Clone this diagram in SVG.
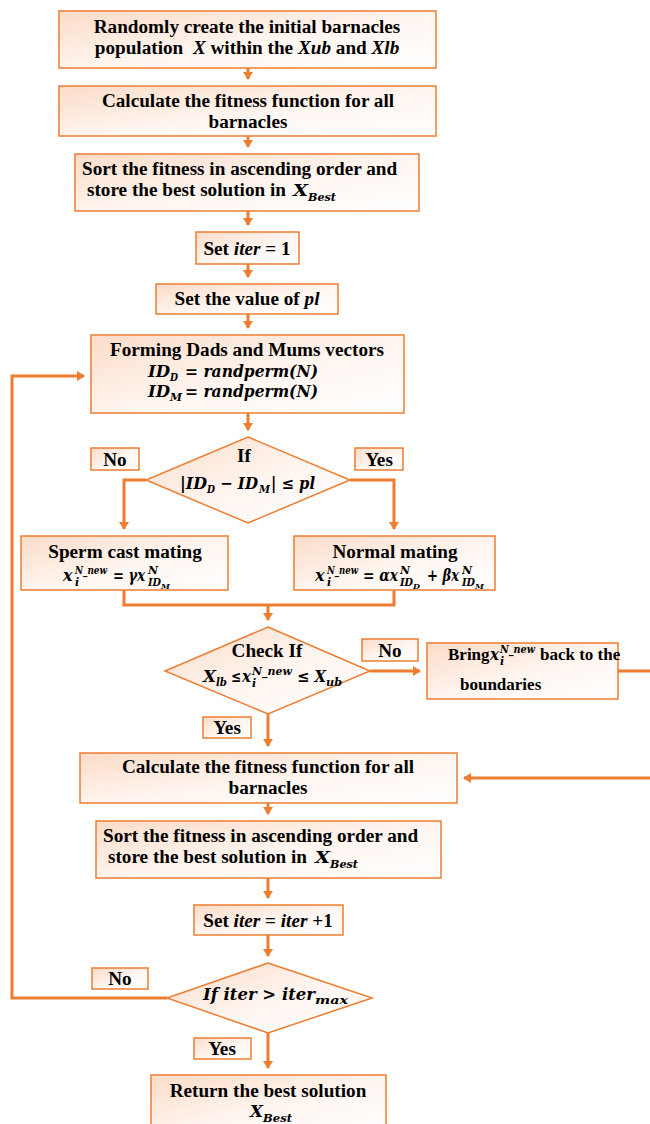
<svg xmlns="http://www.w3.org/2000/svg" width="650" height="1124" viewBox="0 0 650 1124">
<style>
.box{stroke:#ED7D31;stroke-width:1.5;fill:url(#g)}
.lbl{stroke:#ED7D31;stroke-width:1.5;fill:url(#g)}
.c{stroke:#ED7D31;stroke-width:3;fill:none}
.t{font-family:"Liberation Serif","Times New Roman",serif;font-weight:bold;font-size:19.2px;fill:#000}
.t17{font-size:17px}
.m{font-family:"DejaVu Serif",serif;font-weight:bold;font-style:italic;font-size:16px;fill:#000}
.s{font-size:11px}
.ss{font-size:8px}
.i{font-style:italic}
.mid{text-anchor:middle}
</style>
<defs>
<linearGradient id="g" x1="0" y1="0" x2="1" y2="1">
<stop offset="0" stop-color="#FBDCC8"/>
<stop offset="0.55" stop-color="#FFF6F1"/>
<stop offset="1" stop-color="#FFFFFF"/>
</linearGradient>
<marker id="a" markerWidth="10" markerHeight="10" refX="7" refY="5" orient="auto" markerUnits="userSpaceOnUse">
<path d="M0,0 L8,5 L0,10 Z" fill="#ED7D31"/>
</marker>
</defs>

<g id="connectors">
<line class="c" x1="248" y1="68" x2="248" y2="79" marker-end="url(#a)"/>
<line class="c" x1="248" y1="136" x2="248" y2="147" marker-end="url(#a)"/>
<line class="c" x1="248" y1="211" x2="248" y2="225" marker-end="url(#a)"/>
<line class="c" x1="248" y1="264" x2="248" y2="277" marker-end="url(#a)"/>
<line class="c" x1="248" y1="314" x2="248" y2="328" marker-end="url(#a)"/>
<line class="c" x1="248" y1="413" x2="248" y2="430" marker-end="url(#a)"/>
<polyline class="c" points="146,480 124,480 124,529" marker-end="url(#a)"/>
<polyline class="c" points="350,480 394,480 394,529" marker-end="url(#a)"/>
<polyline class="c" points="124,590 124,605 394,605 394,590"/>
<line class="c" x1="268" y1="605" x2="268" y2="620" marker-end="url(#a)"/>
<line class="c" x1="370" y1="671" x2="420" y2="671" marker-end="url(#a)"/>
<polyline class="c" points="618,671 650,671"/>
<polyline class="c" points="650,778 464,778" marker-end="url(#a)"/>
<line class="c" x1="268" y1="714" x2="268" y2="746" marker-end="url(#a)"/>
<line class="c" x1="268" y1="803" x2="268" y2="814" marker-end="url(#a)"/>
<line class="c" x1="268" y1="878" x2="268" y2="898" marker-end="url(#a)"/>
<line class="c" x1="268" y1="935" x2="268" y2="956" marker-end="url(#a)"/>
<polyline class="c" points="167,998 12,998 12,376 84,376" marker-end="url(#a)"/>
<line class="c" x1="268" y1="1033" x2="268" y2="1068" marker-end="url(#a)"/>
</g>

<g id="n1">
<rect class="box" x="59" y="11" width="377" height="57"/>
<text class="t mid" x="247" y="33">Randomly create the initial barnacles</text>
<text class="t mid" x="247" y="54">population&#160; <tspan class="i">X</tspan> within the <tspan class="i">Xub</tspan> and <tspan class="i">Xlb</tspan></text>
</g>

<g id="n2">
<rect class="box" x="59" y="86" width="377" height="50"/>
<text class="t mid" x="248" y="107">Calculate the fitness function for all</text>
<text class="t mid" x="248" y="128">barnacles</text>
</g>

<g id="n3">
<rect class="box" x="75" y="154" width="344" height="57"/>
<text class="t" x="82" y="175">Sort the fitness in ascending order and</text>
<text class="t" x="87" y="196">store the best solution in</text>
<text class="m" x="293" y="196" textLength="15" lengthAdjust="spacingAndGlyphs">X</text>
<text class="m s" x="308" y="201" textLength="28" lengthAdjust="spacingAndGlyphs">Best</text>
</g>

<g id="n4">
<rect class="box" x="196" y="232" width="103" height="32"/>
<text class="t mid" x="247" y="255">Set <tspan class="i">iter</tspan> = 1</text>
</g>

<g id="n5">
<rect class="box" x="156" y="284" width="182" height="30"/>
<text class="t mid" x="247" y="305">Set the value of <tspan class="i">pl</tspan></text>
</g>

<g id="n6">
<rect class="box" x="91" y="335" width="313" height="78"/>
<text class="t mid" x="247" y="356">Forming Dads and Mums vectors</text>
<text class="m" x="148" y="377" textLength="22" lengthAdjust="spacingAndGlyphs">ID</text>
<text class="m s" x="170" y="381" textLength="8" lengthAdjust="spacingAndGlyphs">D</text>
<text class="m" x="185" y="377" textLength="133" lengthAdjust="spacingAndGlyphs">= randperm(N)</text>
<text class="m" x="148" y="397" textLength="22" lengthAdjust="spacingAndGlyphs">ID</text>
<text class="m s" x="170" y="401" textLength="12" lengthAdjust="spacingAndGlyphs">M</text>
<text class="m" x="185" y="397" textLength="133" lengthAdjust="spacingAndGlyphs">= randperm(N)</text>
</g>

<g id="d1">
<polygon class="box" points="248,437 350,480 248,523 146,480"/>
<text class="t mid" x="244" y="462">If</text>
<text class="m" x="180" y="489" textLength="27" lengthAdjust="spacingAndGlyphs">|ID</text>
<text class="m s" x="207" y="493" textLength="8" lengthAdjust="spacingAndGlyphs">D</text>
<text class="m" x="220" y="489" textLength="38" lengthAdjust="spacingAndGlyphs">− ID</text>
<text class="m s" x="259" y="493" textLength="11" lengthAdjust="spacingAndGlyphs">M</text>
<text class="m" x="271" y="489" textLength="44" lengthAdjust="spacingAndGlyphs">| ≤ pl</text>
</g>

<g id="l1">
<rect class="lbl" x="91" y="448" width="48" height="22"/>
<text class="t mid" x="115" y="466">No</text>
</g>
<g id="l2">
<rect class="lbl" x="355" y="448" width="48" height="22"/>
<text class="t mid" x="379" y="466">Yes</text>
</g>

<g id="n7">
<rect class="box" x="21" y="536" width="207" height="54"/>
<text class="t mid" x="125" y="558">Sperm cast mating</text>
<text class="m" x="63" y="581">x</text>
<text class="m s" x="75" y="574" textLength="32" lengthAdjust="spacingAndGlyphs">N_new</text>
<text class="m s" x="75" y="586">i</text>
<text class="m" x="113" y="581" textLength="32" lengthAdjust="spacingAndGlyphs">= γx</text>
<text class="m s" x="148" y="574">N</text>
<text class="m s" x="148" y="586" textLength="13" lengthAdjust="spacingAndGlyphs">ID</text>
<text class="m ss" x="161" y="589">M</text>
</g>

<g id="n8">
<rect class="box" x="294" y="536" width="201" height="54"/>
<text class="t mid" x="395" y="558">Normal mating</text>
<text class="m" x="315" y="581">x</text>
<text class="m s" x="327" y="574" textLength="31" lengthAdjust="spacingAndGlyphs">N_new</text>
<text class="m s" x="327" y="586">i</text>
<text class="m" x="363" y="581" textLength="35" lengthAdjust="spacingAndGlyphs">= αx</text>
<text class="m s" x="400" y="574">N</text>
<text class="m s" x="400" y="586" textLength="13" lengthAdjust="spacingAndGlyphs">ID</text>
<text class="m ss" x="413" y="589">D</text>
<text class="m" x="427" y="581" textLength="32" lengthAdjust="spacingAndGlyphs">+ βx</text>
<text class="m s" x="462" y="574">N</text>
<text class="m s" x="462" y="586" textLength="13" lengthAdjust="spacingAndGlyphs">ID</text>
<text class="m ss" x="475" y="589">M</text>
</g>

<g id="d2">
<polygon class="box" points="268,627 370,671 268,714 165,671"/>
<text class="t mid" x="267" y="657">Check If</text>
<text class="m" x="203" y="682" textLength="13" lengthAdjust="spacingAndGlyphs">X</text>
<text class="m s" x="216" y="686" textLength="11" lengthAdjust="spacingAndGlyphs">lb</text>
<text class="m" x="231" y="682" textLength="10" lengthAdjust="spacingAndGlyphs">≤</text>
<text class="m" x="242" y="682" textLength="9" lengthAdjust="spacingAndGlyphs">x</text>
<text class="m s" x="252" y="675" textLength="40" lengthAdjust="spacingAndGlyphs">N_new</text>
<text class="m s" x="252" y="687">i</text>
<text class="m" x="297" y="682" textLength="29" lengthAdjust="spacingAndGlyphs">≤ X</text>
<text class="m s" x="326" y="686" textLength="16" lengthAdjust="spacingAndGlyphs">ub</text>
</g>

<g id="l3">
<rect class="lbl" x="362" y="639" width="56" height="22"/>
<text class="t mid" x="390" y="657">No</text>
</g>

<g id="n9">
<rect class="box" x="427" y="643" width="191" height="56"/>
<text class="t t17" x="448" y="660">Bring</text>
<text class="m" x="490" y="660" textLength="9" lengthAdjust="spacingAndGlyphs">x</text>
<text class="m s" x="500" y="653" textLength="35" lengthAdjust="spacingAndGlyphs">N_new</text>
<text class="m s" x="500" y="665">i</text>
<text class="t t17" x="540" y="660">back to the</text>
<text class="t t17" x="460" y="690">boundaries</text>
</g>

<g id="l4">
<rect class="lbl" x="203" y="717" width="48" height="21"/>
<text class="t mid" x="227" y="734">Yes</text>
</g>

<g id="n10">
<rect class="box" x="80" y="753" width="377" height="50"/>
<text class="t mid" x="268" y="773">Calculate the fitness function for all</text>
<text class="t mid" x="268" y="794">barnacles</text>
</g>

<g id="n11">
<rect class="box" x="96" y="821" width="345" height="57"/>
<text class="t" x="103" y="842">Sort the fitness in ascending order and</text>
<text class="t" x="108" y="863">store the best solution in</text>
<text class="m" x="315" y="863" textLength="15" lengthAdjust="spacingAndGlyphs">X</text>
<text class="m s" x="330" y="868" textLength="28" lengthAdjust="spacingAndGlyphs">Best</text>
</g>

<g id="n12">
<rect class="box" x="194" y="905" width="149" height="30"/>
<text class="t mid" x="268" y="927">Set <tspan class="i">iter</tspan> = <tspan class="i">iter</tspan> +1</text>
</g>

<g id="d3">
<polygon class="box" points="268,963 372,998 268,1033 167,998"/>
<text class="m" x="203" y="1000" textLength="112" lengthAdjust="spacingAndGlyphs">If iter &gt; iter</text>
<text class="m s" x="315" y="1004" textLength="33" lengthAdjust="spacingAndGlyphs">max</text>
</g>

<g id="l5">
<rect class="lbl" x="92" y="968" width="56" height="21"/>
<text class="t mid" x="120" y="985">No</text>
</g>
<g id="l6">
<rect class="lbl" x="194" y="1038" width="57" height="21"/>
<text class="t mid" x="222" y="1055">Yes</text>
</g>

<g id="n13">
<rect class="box" x="151" y="1075" width="235" height="60"/>
<text class="t mid" x="268" y="1097">Return the best solution</text>
<text class="m" x="250" y="1117" textLength="13" lengthAdjust="spacingAndGlyphs">X</text>
<text class="m s" x="263" y="1122" textLength="29" lengthAdjust="spacingAndGlyphs">Best</text>
</g>
</svg>
